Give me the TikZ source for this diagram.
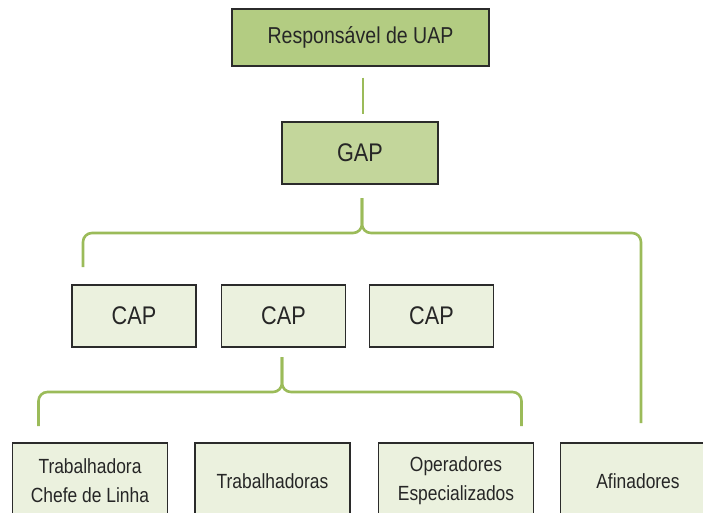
\documentclass[tikz,border=0pt]{standalone}
\usepackage{fontspec}
\setmainfont{Liberation Sans}[FakeStretch=0.85]
\definecolor{linkgreen}{HTML}{9BBB59}
\definecolor{topfill}{HTML}{B3CC82}
\definecolor{midfill}{HTML}{C3D69B}
\definecolor{lowfill}{HTML}{EBF1DE}
\definecolor{edge}{HTML}{2B2B2B}
\tikzset{
  box/.style={draw=edge, line width=1.2pt, inner sep=0pt, align=center, text=black!85},
  topbox/.style={box, fill=topfill, minimum width=257pt, minimum height=57pt, font=\fontsize{23}{27}\selectfont},
  gapbox/.style={box, fill=midfill, minimum width=156pt, minimum height=62pt, font=\fontsize{25.5}{30}\selectfont},
  capbox/.style={box, fill=lowfill, minimum width=124pt, minimum height=62pt, font=\fontsize{25.5}{30}\selectfont},
  rolebox/.style={box, fill=lowfill, minimum width=155pt, minimum height=76pt, font=\fontsize{20.5}{29}\selectfont},
  link/.style={draw=linkgreen, line width=2.6pt},
  brace/.style={link, rounded corners=9pt}
}
\begin{document}
\begin{tikzpicture}[x=1pt, y=-1pt]
  \path[use as bounding box, clip] (0,0) rectangle (703,512);
  \fill[white] (0,0) rectangle (703,512);

  % hierarchy boxes
  \node[topbox] (uap) at (360.5,37.5) {Responsável de UAP};
  \node[gapbox] (gap) at (360,153) {GAP};
  \node[capbox] (cap1) at (134,316) {CAP};
  \node[capbox] (cap2) at (283.5,316) {CAP};
  \node[capbox] (cap3) at (431.5,316) {CAP};
  \node[rolebox] (chefe) at (90,481) {Trabalhadora\\Chefe de Linha};
  \node[rolebox] (trab) at (272.5,481) {Trabalhadoras};
  \node[rolebox] (oper) at (456,481) {Operadores\\Especializados};
  \node[rolebox] (afin) at (638,481) {Afinadores};

  % UAP -> GAP
  \draw[link, shorten <=11pt, shorten >=7pt] (uap.south -| 363,0) -- (gap.north -| 363,0);

  % GAP brace towards the CAP row and the Afinadores
  \coordinate (b1tip) at (362,198);
  \coordinate (b1left) at (83,267);
  \coordinate (b1right) at (641,423);
  \draw[brace] (b1left) -- (83,233) -- (362,233) -- (b1tip);
  \draw[brace] (b1right) -- (641,233) -- (362,233) -- (b1tip);

  % CAP brace towards the workers
  \coordinate (b2tip) at (282,357);
  \coordinate (b2left) at (38.5,426);
  \coordinate (b2right) at (521.5,426);
  \draw[brace] (b2left) -- (38.5,392) -- (282,392) -- (b2tip);
  \draw[brace] (b2right) -- (521.5,392) -- (282,392) -- (b2tip);
\end{tikzpicture}
\end{document}
